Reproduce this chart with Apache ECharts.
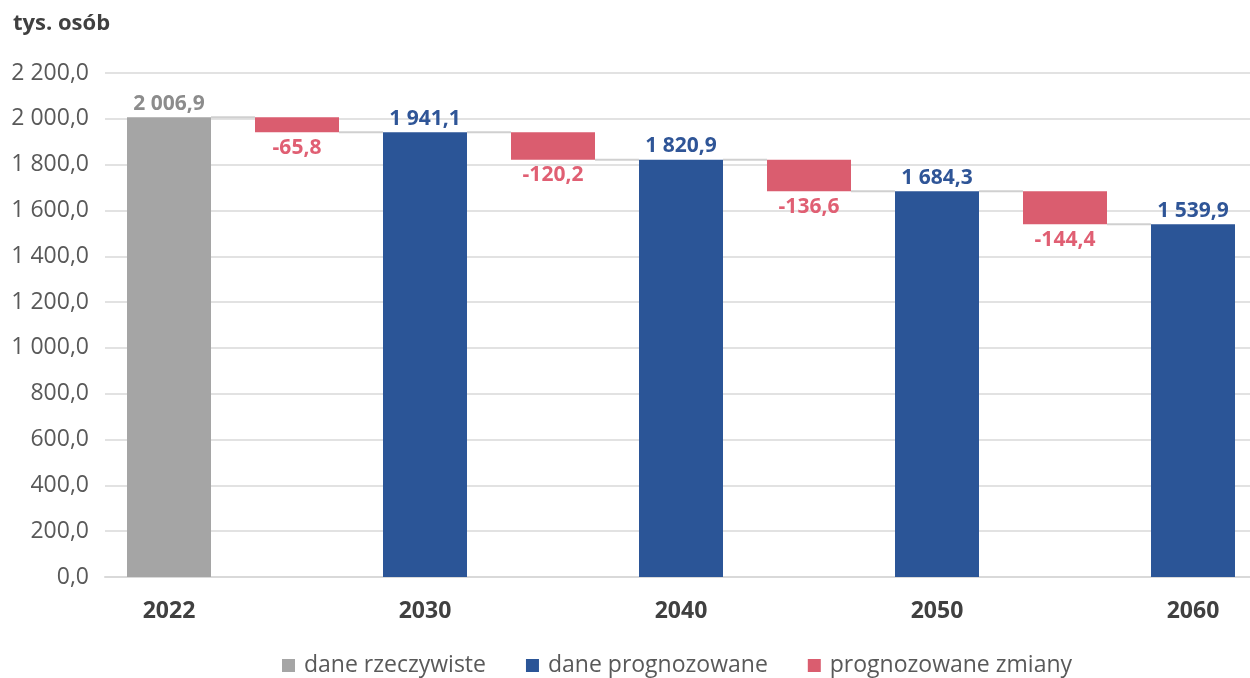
<!DOCTYPE html>
<html>
<head>
<meta charset="utf-8">
<script src="https://cdn.jsdelivr.net/npm/echarts@6/dist/echarts.min.js"></script>
<style>html,body{margin:0;padding:0;background:#fff}#c{width:1250px;height:678px}</style>
</head>
<body>
<div id="c"></div>
<script>
var years = ['2022', '2030', '2040', '2050', '2060'];
var totals = [2006.9, 1941.1, 1820.9, 1684.3, 1539.9];
var changes = [-65.8, -120.2, -136.6, -144.4];
var yTicks = [0, 200, 400, 600, 800, 1000, 1200, 1400, 1600, 1800, 2000, 2200];
var legendNames = ['dane rzeczywiste', 'dane prognozowane', 'prognozowane zmiany'];

var FONT = '"Open Sans", sans-serif';
var BW = 84;
function fmt(v) {
  var s = Math.abs(v).toFixed(1).split('.');
  var ip = s[0].replace(/\B(?=(\d{3})+(?!\d))/g, ' ');
  return (v < 0 ? '-' : '') + ip + ',' + s[1];
}

var categories = [], base = [], actual = [], forecast = [], change = [], connectors = [];
for (var i = 0; i < years.length; i++) {
  categories.push(years[i]);
  base.push('-');
  actual.push(i === 0 ? totals[i] : '-');
  forecast.push(i === 0 ? '-' : totals[i]);
  change.push('-');
  if (i < changes.length) {
    categories.push('');
    base.push(totals[i + 1]);
    actual.push('-');
    forecast.push('-');
    change.push({ value: -changes[i], realValue: changes[i] });
    connectors.push([2 * i, totals[i]]);
    connectors.push([2 * i + 1, totals[i + 1]]);
  }
}

var chart = echarts.init(document.getElementById('c'), null, { renderer: 'canvas' });
chart.setOption({
  animation: false,
  textStyle: { fontFamily: FONT },
  title: {
    text: 'tys. osób', left: 8, top: 8,
    textStyle: { fontFamily: FONT, fontSize: 22, fontWeight: 'bold', color: '#404040' }
  },
  grid: { left: 105, width: 1152, top: 73, bottom: 101, containLabel: false, outerBoundsMode: 'none' },
  legend: {
    bottom: -4, left: 277,
    data: legendNames,
    icon: 'rect', itemWidth: 13, itemHeight: 13, itemGap: 40,
    textStyle: { fontFamily: FONT, fontSize: 23, color: '#595959', padding: [0, 0, 0, 4] }
  },
  xAxis: {
    type: 'category', data: categories,
    axisLine: { lineStyle: { color: '#d9d9d9', width: 2 } },
    axisTick: { show: false },
    axisLabel: { fontFamily: FONT, fontSize: 23, fontWeight: 'bold', color: '#404040', margin: 23, interval: 0 }
  },
  yAxis: {
    type: 'value', min: yTicks[0], max: yTicks[yTicks.length - 1], interval: yTicks[1] - yTicks[0],
    axisLine: { show: false }, axisTick: { show: false },
    splitLine: { lineStyle: { color: '#d9d9d9', width: 1.5 } },
    axisLabel: { fontFamily: FONT, fontSize: 23, color: '#595959', margin: 16, formatter: function (v) { return fmt(v); } }
  },
  series: [
    { name: 'base', type: 'bar', stack: 'w', data: base, barWidth: BW, itemStyle: { color: 'transparent' }, silent: true },
    {
      name: legendNames[0], type: 'bar', stack: 'w', data: actual, barWidth: BW,
      itemStyle: { color: '#a5a5a5' },
      label: { show: true, position: 'top', distance: 3, fontFamily: FONT, fontSize: 21, fontWeight: 'bold', color: '#8c8c8c', formatter: function (p) { return fmt(p.value); } }
    },
    {
      name: legendNames[1], type: 'bar', stack: 'w', data: forecast, barWidth: BW,
      itemStyle: { color: '#2b5597' },
      label: { show: true, position: 'top', distance: 3, fontFamily: FONT, fontSize: 21, fontWeight: 'bold', color: '#2f5597', formatter: function (p) { return fmt(p.value); } }
    },
    {
      name: legendNames[2], type: 'bar', stack: 'w', data: change, barWidth: BW,
      itemStyle: { color: '#da5d6f' },
      label: { show: true, position: 'bottom', distance: 5, fontFamily: FONT, fontSize: 21, fontWeight: 'bold', color: '#e05f73', formatter: function (p) { return fmt(p.data.realValue); } }
    },
    {
      name: 'conn', type: 'custom', data: connectors, silent: true, z: 1,
      encode: { x: 0, y: 1 },
      renderItem: function (params, api) {
        var p = api.coord([api.value(0), api.value(1)]);
        var band = api.size([1, 0])[0];
        return {
          type: 'line',
          shape: { x1: p[0] + BW / 2, y1: p[1], x2: p[0] + band - BW / 2, y2: p[1] },
          style: { stroke: '#d0d0d0', lineWidth: 2 }
        };
      }
    }
  ]
});
</script>
</body>
</html>
